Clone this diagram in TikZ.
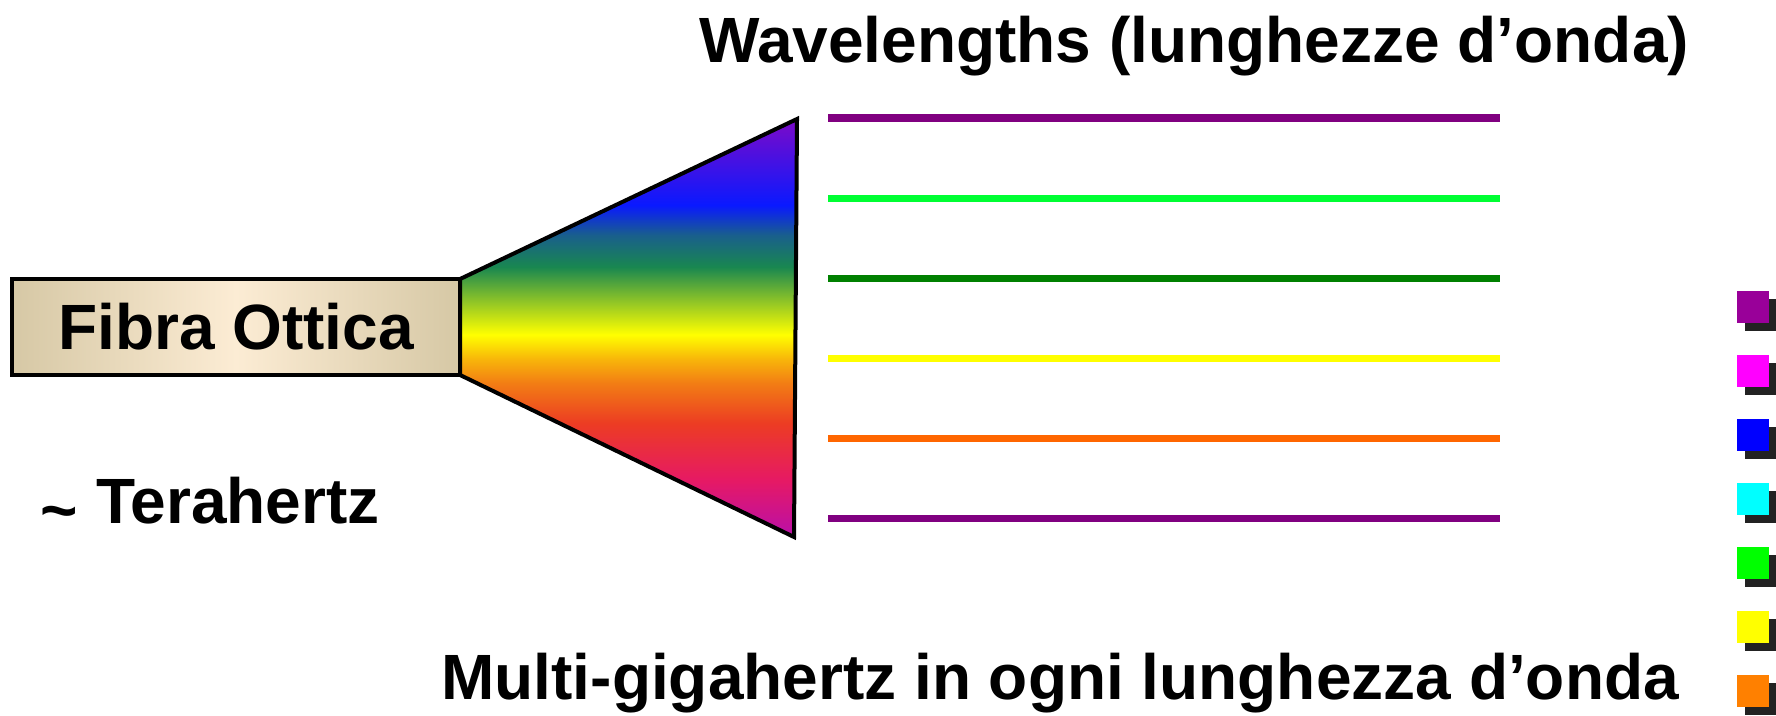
\documentclass[tikz,border=0pt]{standalone}
\usepackage{fontspec}
\setmainfont{Liberation Sans}

\definecolor{fibraedge}{RGB}{214,200,165}
\definecolor{fibramid}{RGB}{252,236,212}
\definecolor{spBottom}{RGB}{185,15,170}
\definecolor{spPink}{RGB}{230,25,100}
\definecolor{spRed}{RGB}{236,60,35}
\definecolor{spOrange}{RGB}{242,125,20}
\definecolor{spLightOrange}{RGB}{248,180,10}
\definecolor{spYellow}{RGB}{255,255,0}
\definecolor{spLime}{RGB}{140,195,40}
\definecolor{spGreen}{RGB}{25,135,80}
\definecolor{spTeal}{RGB}{25,95,140}
\definecolor{spBlue}{RGB}{10,25,255}
\definecolor{spTop}{RGB}{125,10,200}
\definecolor{ondaPurple}{RGB}{128,0,128}
\definecolor{ondaGreen}{RGB}{0,255,51}
\definecolor{ondaDark}{RGB}{0,128,0}
\definecolor{ondaYellow}{RGB}{255,255,0}
\definecolor{ondaOrange}{RGB}{255,102,0}
\definecolor{qViola}{RGB}{153,0,153}
\definecolor{qMagenta}{RGB}{255,0,255}
\definecolor{qBlu}{RGB}{0,0,255}
\definecolor{qCiano}{RGB}{0,255,255}
\definecolor{qVerde}{RGB}{0,255,0}
\definecolor{qGiallo}{RGB}{255,255,0}
\definecolor{qArancio}{RGB}{255,128,0}
\definecolor{ombra}{RGB}{34,34,34}

% rainbow for the prism
\pgfdeclareverticalshading{arcobaleno}{100bp}{color(0bp)=(spBottom); color(25bp)=(spBottom);
  color(31.8bp)=(spPink); color(38.6bp)=(spRed); color(43.4bp)=(spOrange);
  color(46.2bp)=(spLightOrange); color(49.2bp)=(spYellow); color(53.3bp)=(spLime);
  color(57.3bp)=(spGreen); color(61.1bp)=(spTeal); color(64.7bp)=(spBlue);
  color(75bp)=(spTop); color(100bp)=(spTop)}

\begin{document}
\begin{tikzpicture}[x=0.01cm, y=-0.01cm,
    every node/.style={font=\fontsize{18.2pt}{22pt}\selectfont\bfseries, inner sep=0pt, outer sep=0pt},
    fibra/.style={draw, line width=0.04cm, minimum width=4.48cm, minimum height=0.96cm,
      left color=fibraedge, right color=fibraedge, middle color=fibramid},
    onda/.style={line width=0.07cm}]
    \useasboundingbox (0,0) rectangle (1776,715);

    % fibre and prism
    \node[fibra] (fibra) at (236,327) {Fibra Ottica};
    \shadedraw[shading=arcobaleno, line width=0.04cm]
        (fibra.north east) -- (797,119) -- (794,537) -- (fibra.south east) -- cycle;

    % one line for each wavelength
    \foreach \c [count=\i from 0] in {ondaPurple, ondaGreen, ondaDark, ondaYellow, ondaOrange, ondaPurple}
        \draw[onda, \c] (828,{118+80*\i}) -- (1500,{118+80*\i});

    % little squares with shadow
    \foreach \c [count=\i from 0] in {qViola, qMagenta, qBlu, qCiano, qVerde, qGiallo, qArancio} {
        \fill[ombra] (1745,{299+64*\i}) rectangle ++(32,32);
        \fill[\c] (1737,{291+64*\i}) rectangle ++(32,32);
    }

    \node[anchor=base] (titolo) at (1194,62) {Wavelengths (lunghezze d’onda)};
    \node[anchor=base west] (tera) at (41,523)
        {\raisebox{-2.8pt}{\textasciitilde} Terahertz};
    \node[anchor=base] (multi) at (1060,699) {Multi-gigahertz in ogni lunghezza d’onda};
\end{tikzpicture}
\end{document}
